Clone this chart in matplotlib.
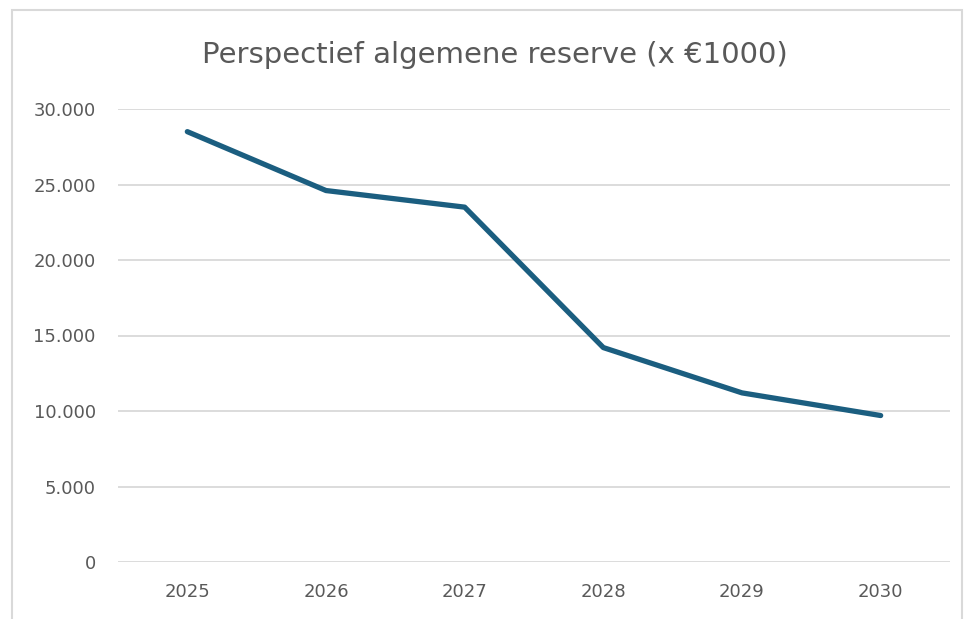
import matplotlib.pyplot as plt
from matplotlib.patches import Rectangle
from matplotlib.ticker import FuncFormatter

# Data
years = ["2025", "2026", "2027", "2028", "2029", "2030"]
reserve = [28500, 24600, 23500, 14200, 11200, 9700]

fig = plt.figure(figsize=(9.64, 6.19), dpi=100)
ax = fig.add_axes([118 / 964, 57 / 619, 832 / 964, 453 / 619])

# outer chart frame
fig.patches.append(Rectangle((12 / 964, -0.05), 950 / 964, 609 / 619 + 0.05,
                             transform=fig.transFigure, fill=False,
                             edgecolor="#d9d9d9", linewidth=1.5))

x = range(len(years))
ax.plot(x, reserve, color="#1b5e80", linewidth=3.8, solid_capstyle="round")

ax.set_xlim(-0.5, len(years) - 0.5)
ax.set_ylim(0, 30000)
ax.set_yticks(range(0, 30001, 5000))
ax.yaxis.set_major_formatter(FuncFormatter(lambda v, p: f"{int(v):,}".replace(",", ".")))
ax.set_xticks(list(x))
ax.set_xticklabels(years)

ax.grid(axis="y", color="#d9d9d9", linewidth=1.3)
ax.set_axisbelow(True)
for s in ax.spines.values():
    s.set_visible(False)
ax.tick_params(length=0, labelsize=13, labelcolor="#595959", pad=15)
ax.tick_params(axis="y", pad=16)

fig.text(495 / 964, 1 - 55 / 619, "Perspectief algemene reserve (x €1000)",
         ha="center", va="center", fontsize=21, color="#595959")

plt.savefig("out.png", dpi=100)
plt.close()
